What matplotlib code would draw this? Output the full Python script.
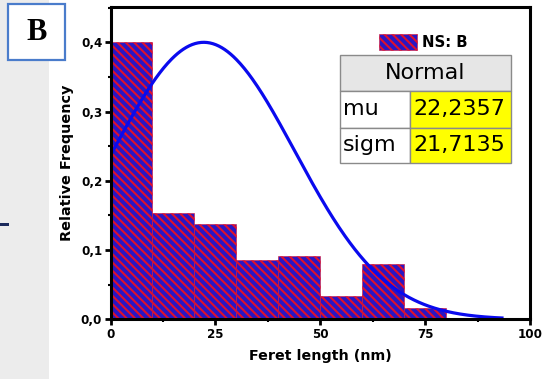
import numpy as np
import matplotlib
matplotlib.use("Agg")
import matplotlib.pyplot as plt
from matplotlib.patches import Rectangle, Patch
from matplotlib.ticker import MultipleLocator, FuncFormatter

# Histogram of Feret lengths (bin left edges, nm) and relative frequencies
bin_edges = [0, 10, 20, 30, 40, 50, 60, 70]
bin_width = 10
rel_freq = [0.400, 0.154, 0.137, 0.085, 0.091, 0.034, 0.080, 0.017]

# Normal fit parameters
mu = 22.2357
sigma = 21.7135
fit_peak = 0.400
fit_xmax = 93.7

x_ticks = [0, 25, 50, 75, 100]
y_ticks = [0.0, 0.1, 0.2, 0.3, 0.4]

W, H = 548, 379
plt.rcParams['hatch.linewidth'] = 1.5
fig = plt.figure(figsize=(W / 100, H / 100), dpi=100)


def fx(px):
    return px / W


def fy(py):
    return 1 - py / H


# light paper strip at the left edge
fig.add_artist(Rectangle((0, 0), fx(49), 1, transform=fig.transFigure,
                         facecolor='#ececec', edgecolor='none', zorder=0))
fig.add_artist(Rectangle((0, fy(225.5)), fx(9), 3 / H, transform=fig.transFigure,
                         facecolor='#1c2a5c', edgecolor='none', zorder=1))
# panel letter box
fig.add_artist(Rectangle((fx(8), fy(60)), fx(57), 56 / H, transform=fig.transFigure,
                         facecolor='white', edgecolor='#4a7ccb', lw=1.6, zorder=2))
fig.text(fx(37), fy(33), 'B', family='Liberation Serif', weight='bold',
         fontsize=22, ha='center', va='center', zorder=3)

ax = fig.add_axes([fx(110.5), fy(319.3), fx(530 - 110.5), (319.3 - 7) / H])
ax.set_xlim(0, 100)
ax.set_ylim(0, 0.451)

bar_face = '#2a16c4'
bar_hatch = '#e0102c'
ax.bar(bin_edges, rel_freq, width=bin_width, align='edge',
       facecolor=bar_face, edgecolor=bar_hatch, hatch='\\\\\\\\', lw=0.4, zorder=2)

xs = np.linspace(0, fit_xmax, 400)
ys = fit_peak * np.exp(-0.5 * ((xs - mu) / sigma) ** 2)
ax.plot(xs, ys, color='#0a0aee', lw=2.3, zorder=3, solid_capstyle='butt')

for s in ax.spines.values():
    s.set_linewidth(2.2)
    s.set_zorder(4)

ax.set_xticks(x_ticks)
ax.set_yticks(y_ticks)
ax.xaxis.set_minor_locator(MultipleLocator(12.5))
ax.yaxis.set_minor_locator(MultipleLocator(0.05))
ax.yaxis.set_major_formatter(FuncFormatter(lambda v, p: f'{v:.1f}'.replace('.', ',')))
ax.tick_params(which='major', direction='out', length=4, width=2, pad=2,
               labelsize=8.6)
ax.tick_params(which='minor', direction='out', length=2, width=1.5)
for lab in ax.get_xticklabels() + ax.get_yticklabels():
    lab.set_fontweight('bold')

ax.set_xlabel('Feret length (nm)', fontsize=10.3, fontweight='bold', labelpad=6)
ax.set_ylabel('Relative Frequency', fontsize=10.4, fontweight='bold', labelpad=5)

# legend
handle = Patch(facecolor=bar_face, edgecolor=bar_hatch, hatch='\\\\\\\\', lw=0.4)
leg = ax.legend([handle], ['NS: B'], loc='upper left',
                bbox_to_anchor=(fx(372), fy(27)), bbox_transform=fig.transFigure,
                frameon=False, borderpad=0, handlelength=2.55, handleheight=1.25,
                handletextpad=0.3, prop={'weight': 'bold', 'size': 10.7})

# fit parameter table
tx0, tx1, tsplit = 340, 511, 410
ty = [55, 90.7, 127.7, 163.3]
cells = [
    (tx0, ty[0], tx1, ty[1], '#e6e6e6'),
    (tx0, ty[1], tsplit, ty[2], 'white'),
    (tsplit, ty[1], tx1, ty[2], '#ffff00'),
    (tx0, ty[2], tsplit, ty[3], 'white'),
    (tsplit, ty[2], tx1, ty[3], '#ffff00'),
]
for x0, y0, x1, y1, c in cells:
    fig.add_artist(Rectangle((fx(x0), fy(y1)), fx(x1 - x0), (y1 - y0) / H,
                             transform=fig.transFigure, facecolor=c,
                             edgecolor='#8a8a8a', lw=1.0, zorder=5))
fig.text(fx((tx0 + tx1) / 2), fy((ty[0] + ty[1]) / 2), 'Normal', fontsize=16,
         ha='center', va='center', zorder=6)
rows = [('mu', f'{mu:.4f}'.replace('.', ',')), ('sigm', f'{sigma:.4f}'.replace('.', ','))]
for i, (name, val) in enumerate(rows):
    yc = fy((ty[i + 1] + ty[i + 2]) / 2)
    fig.text(fx(343), yc, name, fontsize=16, ha='left', va='center', zorder=6)
    fig.text(fx(413), yc, val, fontsize=16, ha='left', va='center', zorder=6)

fig.savefig('out.png', dpi=100)
